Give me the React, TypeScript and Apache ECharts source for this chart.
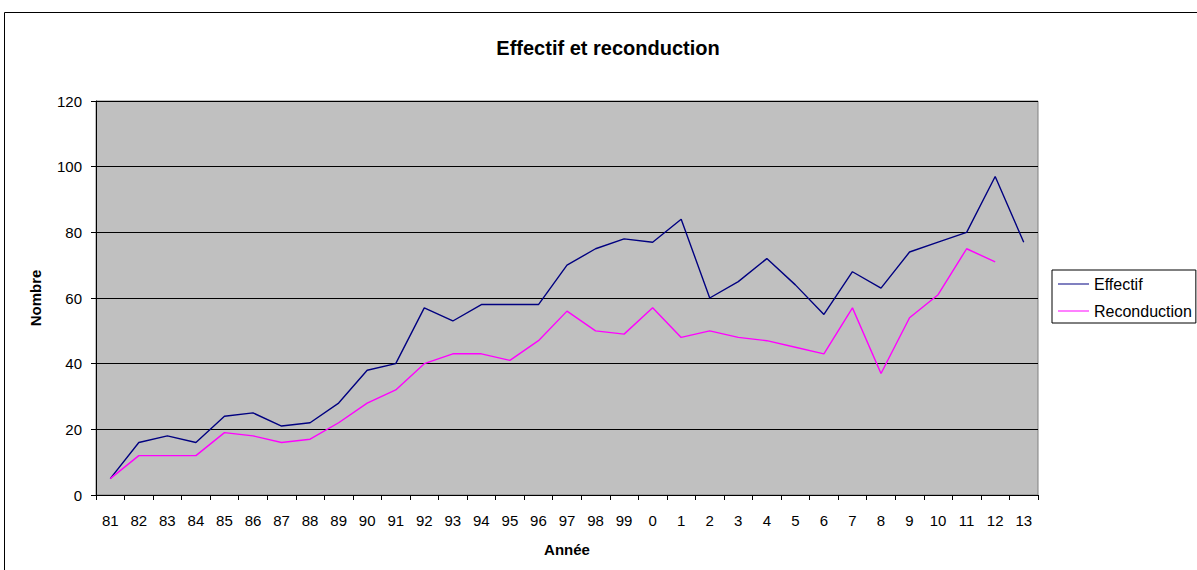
import React, { useEffect, useRef } from "react";
import * as echarts from "echarts";

const categories = ["81","82","83","84","85","86","87","88","89","90","91","92","93","94","95","96","97","98","99","0","1","2","3","4","5","6","7","8","9","10","11","12","13"];
const effectif = [5,16,18,16,24,25,21,22,28,38,40,57,53,58,58,58,70,75,78,77,84,60,65,72,64,55,68,63,74,77,80,97,77];
const reconduction = [5,12,12,12,19,18,16,17,22,28,32,40,43,43,41,47,56,50,49,57,48,50,48,47,45,43,57,37,54,61,75,71,null];
const yTicks = { min: 0, max: 120, interval: 20 };

const FONT = "'Liberation Sans', Arial, sans-serif";

export default function App() {
  const ref = useRef<HTMLDivElement>(null);
  useEffect(() => {
    const chart = echarts.init(ref.current!, null, { renderer: "svg" });
    chart.setOption({
      animation: false,
      backgroundColor: "#ffffff",
      title: {
        text: "Effectif et reconduction",
        left: 603,
        top: 33,
        textAlign: "center",
        textStyle: { fontFamily: FONT, fontSize: 20, fontWeight: "bold", color: "#000" },
      },
      graphic: [
        {
          type: "rect",
          shape: { x: 4.5, y: 12.5, width: 1300, height: 700 },
          style: { fill: "none", stroke: "#000", lineWidth: 1 },
          silent: true,
        },
      ],
      legend: {
        orient: "vertical",
        left: 1052,
        top: 270,
        backgroundColor: "#fff",
        borderColor: "#000",
        borderWidth: 1,
        borderRadius: 0,
        padding: [6, 4, 4, 6],
        itemGap: 11,
        itemWidth: 31,
        itemHeight: 14,
        textStyle: { fontFamily: FONT, fontSize: 16, color: "#000", padding: [0, 0, 0, 0] },
        data: [
          { name: "Effectif", icon: "path://M0,7 L31,7 L31,8 L0,8 Z" },
          { name: "Reconduction", icon: "path://M0,7 L31,7 L31,8 L0,8 Z" },
        ],
      },
      grid: {
        left: 96,
        right: 159,
        top: 101,
        bottom: 75,
        show: true,
        backgroundColor: "#c0c0c0",
        borderColor: "#808080",
        borderWidth: 1,
      },
      xAxis: {
        type: "category",
        data: categories,
        boundaryGap: true,
        name: "Année",
        nameLocation: "middle",
        nameGap: 47,
        nameTextStyle: { fontFamily: FONT, fontSize: 15, fontWeight: "bold", color: "#000" },
        axisLine: { lineStyle: { color: "#000", width: 1 } },
        axisTick: { show: true, length: 5, inside: false, alignWithLabel: false, lineStyle: { color: "#000" } },
        axisLabel: { fontFamily: FONT, fontSize: 15, color: "#000", margin: 18, interval: 0 },
        splitLine: { show: false },
      },
      yAxis: {
        type: "value",
        min: yTicks.min,
        max: yTicks.max,
        interval: yTicks.interval,
        name: "Nombre",
        nameLocation: "middle",
        nameGap: 53,
        nameRotate: 90,
        nameTextStyle: { fontFamily: FONT, fontSize: 15, fontWeight: "bold", color: "#000" },
        axisLine: { show: true, lineStyle: { color: "#000", width: 1 } },
        axisTick: { show: true, length: 5, lineStyle: { color: "#000" } },
        axisLabel: { fontFamily: FONT, fontSize: 15, color: "#000", margin: 14 },
        splitLine: { show: true, lineStyle: { color: "#000", width: 1 } },
      },
      series: [
        {
          name: "Effectif",
          type: "line",
          data: effectif,
          symbol: "none",
          lineStyle: { color: "#000080", width: 1.4 },
          itemStyle: { color: "#000080" },
        },
        {
          name: "Reconduction",
          type: "line",
          data: reconduction,
          symbol: "none",
          lineStyle: { color: "#ff00ff", width: 1.4 },
          itemStyle: { color: "#ff00ff" },
        },
      ],
    });
    return () => chart.dispose();
  }, []);
  return (
    <div
      ref={ref}
      style={{ position: "absolute", left: 0, top: 0, width: 1197, height: 570 }}
    />
  );
}
